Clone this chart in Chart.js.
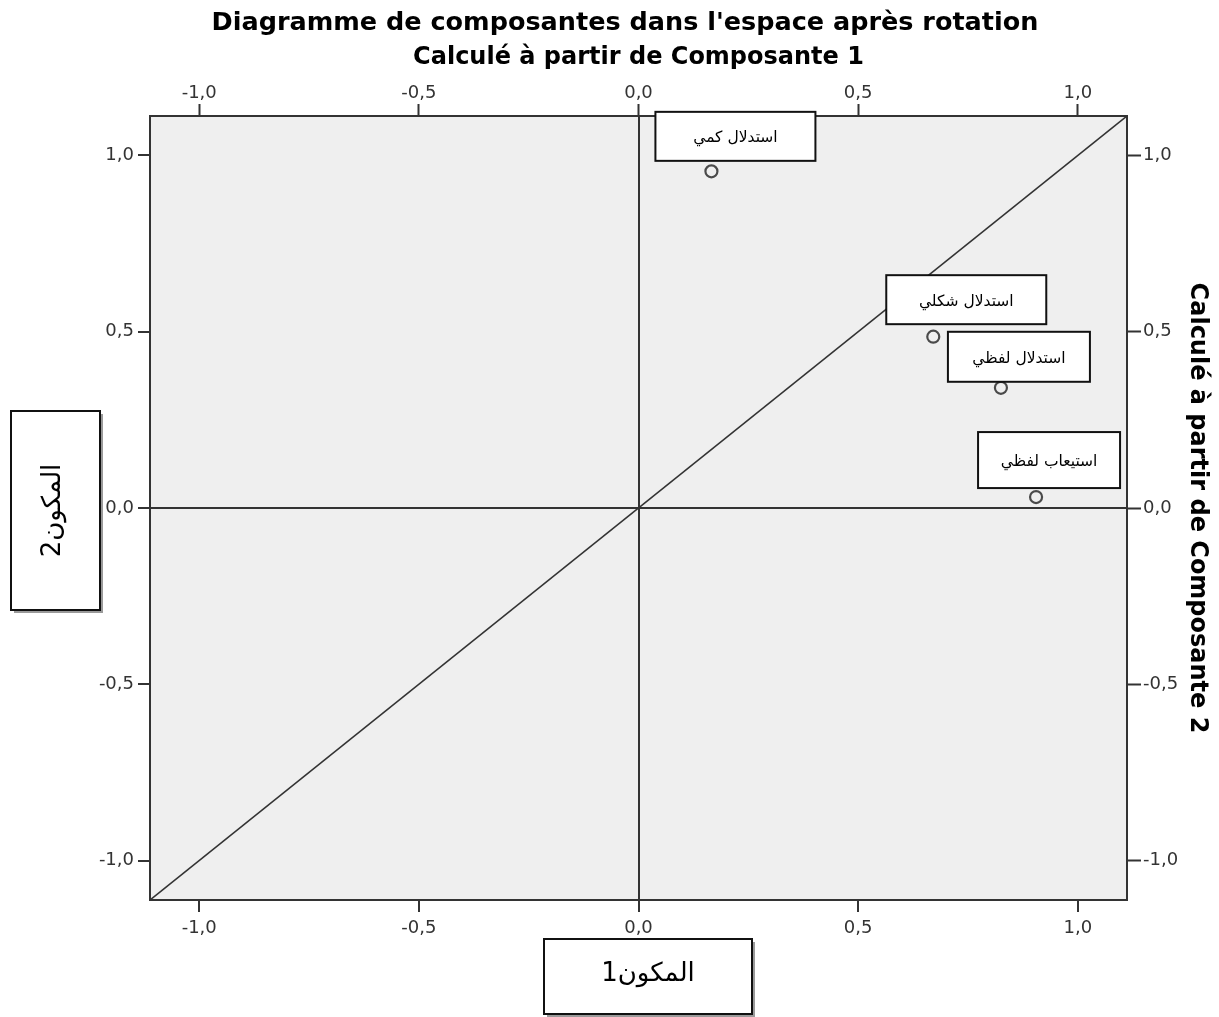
<!DOCTYPE html>
<html>
<head>
<meta charset="utf-8">
<script src="https://cdn.jsdelivr.net/npm/chart.js@4/dist/chart.umd.min.js"></script>
<style>
  html, body { margin: 0; padding: 0; background: #ffffff; }
  #wrap { width: 1219px; height: 1017px; }
</style>
</head>
<body>
<div id="wrap"><canvas id="c" width="1219" height="1017"></canvas></div>
<script>
// Rotated component loadings
const variables = ['استدلال كمي', 'استدلال شكلي', 'استدلال لفظي', 'استيعاب لفظي'];
const component1 = [0.166, 0.671, 0.825, 0.905];
const component2 = [0.955, 0.486, 0.341, 0.031];

// Axis ticks and range (both components share them)
const tickValues = [-1, -0.5, 0, 0.5, 1];
const axisMin = -1.112;
const axisMax = 1.112;

// Texts
const chartTitle = "Diagramme de composantes dans l'espace après rotation";
const topAxisTitle = 'Calculé à partir de Composante 1';
const rightAxisTitle = 'Calculé à partir de Composante 2';
const xAxisName = 'المكون1';
const yAxisName = 'المكون2';

// Label box placement relative to each point (pixels)
const labelBoxes = [
  { dx: 24, dy: -35, w: 160, h: 49 },
  { dx: 33, dy: -37, w: 160, h: 49 },
  { dx: 18, dy: -31, w: 142, h: 50 },
  { dx: 13, dy: -37, w: 142, h: 56 }
];

const INK = '#333333';
const tickFont = { family: 'DejaVu Sans', size: 18 };
const fmt = v => v.toFixed(1).replace('.', ',');
const zeroLine = ctx => (ctx.tick && ctx.tick.value === 0) ? INK : 'rgba(0,0,0,0)';
const fixedTicks = scale => { scale.ticks = tickValues.map(v => ({ value: v })); };

function namedBox(ctx, x, y, w, h, text, rotate) {
  ctx.save();
  ctx.fillStyle = '#9a9a9a';
  ctx.fillRect(x + 3, y + 3, w, h);
  ctx.fillStyle = '#ffffff';
  ctx.fillRect(x, y, w, h);
  ctx.lineWidth = 2;
  ctx.strokeStyle = '#111111';
  ctx.strokeRect(x, y, w, h);
  ctx.translate(x + w / 2, y + h / 2);
  if (rotate) ctx.rotate(-Math.PI / 2);
  ctx.fillStyle = '#000000';
  ctx.font = '26px "DejaVu Sans"';
  ctx.direction = 'rtl';
  ctx.textAlign = 'center';
  ctx.textBaseline = 'middle';
  ctx.fillText(text, 0, -2);
  ctx.restore();
}

const decorations = {
  id: 'decorations',
  beforeDraw(chart) {
    const { ctx, chartArea: a } = chart;
    ctx.save();
    ctx.fillStyle = '#efefef';
    ctx.fillRect(a.left, a.top, a.right - a.left, a.bottom - a.top);
    ctx.restore();
  },
  afterDraw(chart) {
    const ctx = chart.ctx;
    // main title
    ctx.save();
    ctx.fillStyle = '#000000';
    ctx.font = 'bold 25.5px "DejaVu Sans"';
    ctx.textAlign = 'center';
    ctx.textBaseline = 'alphabetic';
    ctx.fillText(chartTitle, 625, 30);
    ctx.restore();

    // point labels
    const meta = chart.getDatasetMeta(1);
    meta.data.forEach((pt, i) => {
      const b = labelBoxes[i];
      const cx = pt.x + b.dx, cy = pt.y + b.dy;
      ctx.save();
      ctx.fillStyle = '#ffffff';
      ctx.fillRect(cx - b.w / 2, cy - b.h / 2, b.w, b.h);
      ctx.lineWidth = 2;
      ctx.strokeStyle = '#111111';
      ctx.strokeRect(cx - b.w / 2, cy - b.h / 2, b.w, b.h);
      ctx.fillStyle = '#000000';
      ctx.font = '15.5px "DejaVu Sans"';
      ctx.direction = 'rtl';
      ctx.textAlign = 'center';
      ctx.textBaseline = 'middle';
      ctx.fillText(variables[i], cx, cy + 2);
      ctx.restore();
    });

    // component name boxes
    namedBox(ctx, 544, 939, 208, 75, xAxisName, false);
    namedBox(ctx, 11, 411, 89, 199, yAxisName, true);
  }
};

new Chart(document.getElementById('c'), {
  type: 'scatter',
  data: {
    datasets: [
      {
        type: 'line',
        data: [{ x: axisMin, y: axisMin }, { x: axisMax, y: axisMax }],
        borderColor: INK,
        borderWidth: 1.6,
        pointRadius: 0,
        fill: false,
        order: 2
      },
      {
        data: component1.map((v, i) => ({ x: v, y: component2[i] })),
        pointRadius: 6,
        pointHoverRadius: 6,
        borderWidth: 2.2,
        borderColor: '#4a4a4a',
        backgroundColor: 'rgba(0,0,0,0)',
        order: 1
      }
    ]
  },
  options: {
    responsive: false,
    animation: false,
    devicePixelRatio: 1,
    layout: { padding: { top: 36, left: 0, right: 0, bottom: 0 } },
    plugins: { legend: { display: false }, tooltip: { enabled: false }, title: { display: false } },
    scales: {
      x: {
        position: 'bottom', min: axisMin, max: axisMax,
        afterBuildTicks: fixedTicks,
        afterFit: s => { s.height = 117; },
        grid: { color: zeroLine, lineWidth: 2, tickColor: INK, tickWidth: 2, tickLength: 12 },
        border: { display: true, color: INK, width: 2 },
        ticks: { font: tickFont, color: INK, padding: 6, maxRotation: 0, callback: fmt }
      },
      x2: {
        position: 'top', min: axisMin, max: axisMax,
        afterBuildTicks: fixedTicks,
        afterFit: s => { s.height = 80; },
        grid: { drawOnChartArea: false, tickColor: INK, tickWidth: 2, tickLength: 12 },
        border: { display: true, color: INK, width: 2 },
        ticks: { font: tickFont, color: INK, padding: 0, maxRotation: 0, callback: fmt },
        title: { display: true, text: topAxisTitle, color: '#000000',
                 font: { family: 'DejaVu Sans', size: 24, weight: 'bold' }, padding: { top: 7, bottom: 0 } }
      },
      y: {
        position: 'left', min: axisMin, max: axisMax,
        afterBuildTicks: fixedTicks,
        afterFit: s => { s.width = 150; },
        grid: { color: zeroLine, lineWidth: 2, tickColor: INK, tickWidth: 2, tickLength: 12 },
        border: { display: true, color: INK, width: 2 },
        ticks: { font: tickFont, color: INK, padding: 4, callback: fmt }
      },
      y2: {
        position: 'right', min: axisMin, max: axisMax,
        afterBuildTicks: fixedTicks,
        afterFit: s => { s.width = 92; },
        grid: { drawOnChartArea: false, tickColor: INK, tickWidth: 2, tickLength: 14 },
        border: { display: true, color: INK, width: 2 },
        ticks: { font: tickFont, color: INK, padding: 2, callback: fmt },
        title: { display: true, text: rightAxisTitle, color: '#000000',
                 font: { family: 'DejaVu Sans', size: 24, weight: 'bold' }, padding: { top: 7, bottom: 0 } }
      }
    }
  },
  plugins: [decorations]
});
</script>
</body>
</html>
